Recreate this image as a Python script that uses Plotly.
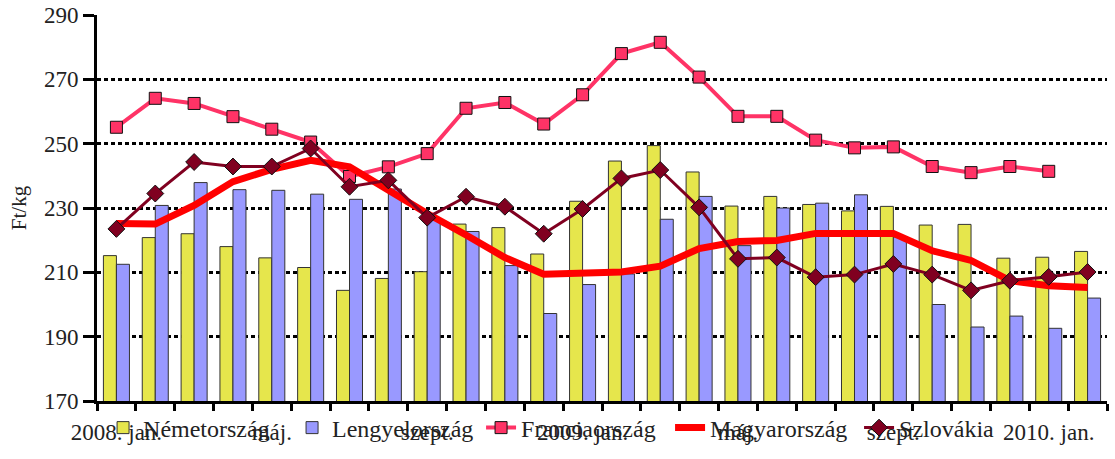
import plotly.graph_objects as go

months = ["jan.", "febr.", "márc.", "ápr.", "máj.", "jún.", "júl.", "aug.", "szept.", "okt.", "nov.", "dec."]
categories = [f"{y}. {m}" for y in (2008, 2009, 2010) for m in months][:26]
tick_labels = ["2008. jan.", "", "", "", "máj.", "", "", "", "szept.", "", "", "",
               "2009. jan.", "", "", "", "máj.", "", "", "", "szept.", "", "", "",
               "2010. jan.", ""]

germany = [215.2, 220.8, 222.0, 218.0, 214.5, 211.5, 204.4, 208.1, 210.2, 225.0, 223.9, 215.7, 232.1,
           244.6, 249.4, 241.2, 230.6, 233.6, 231.1, 229.1, 230.5, 224.7, 224.9, 214.4, 214.7, 216.5]
poland = [212.5, 230.8, 237.9, 235.7, 235.5, 234.3, 232.7, 235.9, 226.3, 222.7, 212.1, 197.2, 206.2,
          209.5, 226.5, 233.6, 218.3, 230.0, 231.5, 234.1, 221.0, 200.0, 193.0, 196.4, 192.6, 202.0]
france = [255.1, 264.1, 262.5, 258.4, 254.5, 250.5, 239.8, 242.8, 246.9, 261.0, 262.8, 256.1, 265.2,
          278.0, 281.5, 270.7, 258.5, 258.5, 251.1, 248.7, 249.0, 242.9, 241.0, 242.9, 241.4, None]
hungary = [225.2, 225.0, 230.8, 238.2, 242.0, 244.8, 242.8, 235.5, 228.3, 221.6, 214.6, 209.4, 209.6,
           210.1, 211.9, 217.4, 219.6, 219.9, 222.1, 221.9, 222.1, 216.7, 213.7, 207.4, 205.8, 205.3]
slovakia = [223.5, 234.5, 244.3, 242.9, 242.9, 248.5, 236.6, 238.6, 227.0, 233.5, 230.4, 222.0, 229.7,
            239.2, 241.8, 230.2, 214.2, 214.6, 208.5, 209.3, 212.6, 209.3, 204.4, 207.4, 208.6, 210.1]

y_ticks = [170, 190, 210, 230, 250, 270, 290]

FONT = "Liberation Serif"
TXT = "#222222"

fig = go.Figure()
fig.add_bar(x=categories, y=germany, name="Németország",
            marker=dict(color="#E6E64C", line=dict(color="#333333", width=1)))
fig.add_bar(x=categories, y=poland, name="Lengyelország",
            marker=dict(color="#9999FF", line=dict(color="#333333", width=1)))
fig.add_scatter(x=categories, y=france, name="Franciaország", mode="lines+markers",
                line=dict(color="#FF3366", width=4),
                marker=dict(symbol="square", size=12, color="#FF3366",
                            line=dict(color="#111111", width=1)))
fig.add_scatter(x=categories, y=hungary, name="Magyarország", mode="lines",
                line=dict(color="#FF0000", width=7))
fig.add_scatter(x=categories, y=slovakia, name="Szlovákia", mode="lines+markers",
                line=dict(color="#800020", width=3),
                marker=dict(symbol="diamond", size=13, color="#800020",
                            line=dict(color="#111111", width=1)))

fig.update_layout(
    width=1115, height=459,
    margin=dict(l=97, r=8, t=15, b=52),
    paper_bgcolor="white", plot_bgcolor="white",
    barmode="group", bargap=0.33, bargroupgap=0,
    font=dict(family=FONT, size=23, color=TXT),
    showlegend=True,
    legend=dict(orientation="h", x=0.006, xanchor="left", y=-0.07, yanchor="middle",
                font=dict(family=FONT, size=24, color=TXT),
                bgcolor="rgba(0,0,0,0)", entrywidth=144, entrywidthmode="pixels",
                traceorder="normal"),
    xaxis=dict(type="category", categoryorder="array", categoryarray=categories,
               tickmode="array", tickvals=categories, ticktext=tick_labels,
               tickson="boundaries", ticks="outside", ticklen=7, tickwidth=3,
               tickcolor="black", showline=True, linecolor="black", linewidth=3,
               showgrid=False, tickangle=0, tickfont=dict(size=23),
               ticklabelstandoff=8,
               range=[-0.5, 25.5], automargin=False),
    yaxis=dict(range=[170, 290], tickvals=y_ticks, ticks="outside", ticklen=11,
               tickwidth=3, tickcolor="black", showline=True, linecolor="black",
               linewidth=3, showgrid=True, gridcolor="black", gridwidth=3,
               griddash="4px,3px", zeroline=False, tickfont=dict(size=23),
               automargin=False,
               title=dict(text="Ft/kg", font=dict(size=21), standoff=12)),
)

fig.write_html("out.html", config={"displayModeBar": False},
               post_script="document.body.style.margin='0';document.body.style.padding='0';")
